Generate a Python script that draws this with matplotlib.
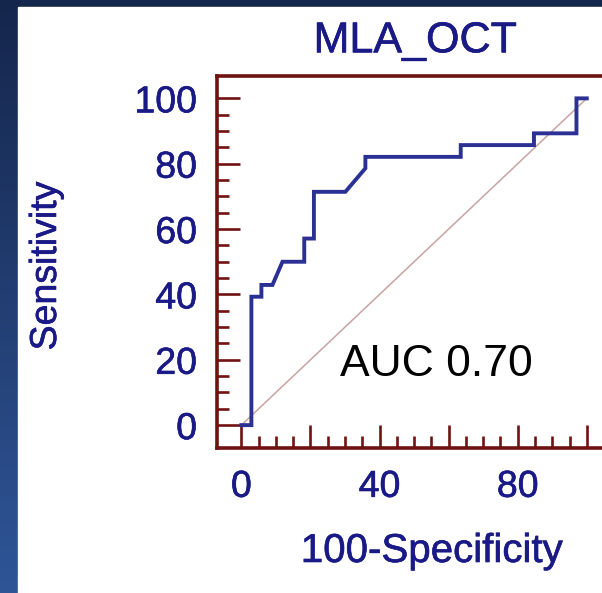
import numpy as np
import matplotlib
matplotlib.use('Agg')
import matplotlib.pyplot as plt
import matplotlib.patheffects as pe
from matplotlib.ticker import FixedLocator, FixedFormatter

# ========== DATA ==========
fpr = [0, 2.9, 2.9, 5.8, 5.8, 9.0, 11.9, 18.2, 18.2, 21.0, 21.0,
       30.1, 35.9, 35.9, 63.5, 63.5, 84.7, 84.7, 97.0, 97.0, 100]
tpr = [0, 0, 39.3, 39.3, 42.9, 42.9, 50.0, 50.0, 57.1, 57.1, 71.4,
       71.4, 78.6, 82.1, 82.1, 85.7, 85.7, 89.3, 89.3, 100, 100]
diag = [0, 100]
x_ticks = [0, 20, 40, 60, 80, 100]
x_labels = ['0', '', '40', '', '80', '']
y_ticks = [0, 20, 40, 60, 80, 100]
y_labels = ['0', '20', '40', '60', '80', '100']
minor_ticks = list(range(0, 101, 5))
title = 'MLA_OCT'
x_title = '100-Specificity'
y_title = 'Sensitivity'
auc_text = 'AUC 0.70'
# ==========================

FONT = ['Liberation Sans', 'DejaVu Sans']
NAVY = '#1a1a86'
LINE = '#2a3094'
MAROON = '#701212'
heavy = [pe.withStroke(linewidth=0.45, foreground=NAVY)]

plt.rcParams['font.family'] = FONT

W, H = 602, 593
fig = plt.figure(figsize=(W / 100, H / 100), dpi=100)

# slide background: dark blue gradient with white panel
bg = fig.add_axes([0, 0, 1, 1])
grad = np.linspace(0, 1, 256).reshape(-1, 1)
cmap = matplotlib.colors.LinearSegmentedColormap.from_list('bg', ['#15264c', '#2f5597'])
bg.imshow(grad, aspect='auto', cmap=cmap, extent=[0, 1, 0, 1], origin='upper')
bg.add_patch(plt.Rectangle((17.5 / W, 0), 1, 1 - 7 / H, color='white', zorder=2))
bg.set_xlim(0, 1)
bg.set_ylim(0, 1)
bg.axis('off')

# plot axes (right edge runs past the image, as in the crop)
left, right = 216.5 / W, 611 / W
bottom, top = 1 - 448 / H, 1 - 75.5 / H
ax = fig.add_axes([left, bottom, right - left, top - bottom])
ax.set_facecolor('none')

ax.plot(diag, diag, color='#c9a3a3', lw=1.1, zorder=2)
ax.plot(fpr, tpr, color=LINE, lw=2.8, solid_joinstyle='miter', zorder=3)

ax.set_xlim(-7.2, 107)
ax.set_ylim(-7, 107)

ax.xaxis.set_major_locator(FixedLocator(x_ticks))
ax.xaxis.set_major_formatter(FixedFormatter(x_labels))
ax.yaxis.set_major_locator(FixedLocator(y_ticks))
ax.yaxis.set_major_formatter(FixedFormatter(y_labels))
ax.xaxis.set_minor_locator(FixedLocator(minor_ticks))
ax.yaxis.set_minor_locator(FixedLocator(minor_ticks))

ax.tick_params(which='major', direction='in', length=16.5, width=1.9,
               color=MAROON, labelsize=27, labelcolor=NAVY)
ax.tick_params(which='minor', direction='in', length=8.5, width=1.9, color=MAROON)
ax.tick_params(axis='y', which='major', pad=14)
ax.tick_params(axis='x', which='major', pad=15)
for lbl in ax.get_xticklabels() + ax.get_yticklabels():
    lbl.set_path_effects(heavy)
for s in ax.spines.values():
    s.set_color(MAROON)
    s.set_linewidth(2.6)

ax.text(28.6, 14.9, auc_text, fontsize=32, color='black', ha='left', va='baseline')

fig.text(415 / W, 1 - 52.3 / H, title, fontsize=31, color=NAVY, ha='center', va='baseline',
         path_effects=heavy)
fig.text(432 / W, 1 - 551 / H, x_title, fontsize=29, color=NAVY, ha='center', va='center',
         path_effects=heavy)
fig.text(46 / W, 1 - 266 / H, y_title, fontsize=27, color=NAVY, ha='center', va='center',
         rotation=90, path_effects=heavy)

fig.savefig('out.png', dpi=100)
